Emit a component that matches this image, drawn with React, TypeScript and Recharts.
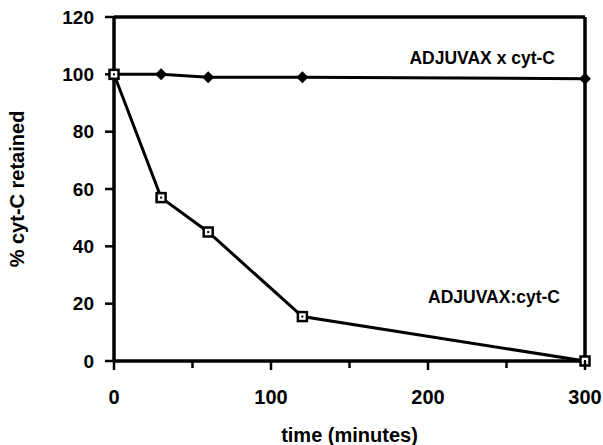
import React from "react";
import {
  LineChart,
  Line,
  XAxis,
  YAxis,
  ReferenceLine,
  Label,
} from "recharts";

// minutes sampled
const times = [0, 30, 60, 120, 300];
// ADJUVAX x cyt-C (filled diamonds)
const mixed = [100, 100, 99, 99, 98.5];
// ADJUVAX:cyt-C (open squares)
const complexed = [100, 57, 45, 15.5, 0];

const xTicks = [0, 50, 100, 150, 200, 250, 300];
const yTicks = [0, 20, 40, 60, 80, 100, 120];

const data = times.map((t, i) => ({ t, mixed: mixed[i], complexed: complexed[i] }));

const FONT = "'Liberation Sans', Arial, sans-serif";

const XTick = (props: any) => {
  const { x, y, payload } = props;
  const major = payload.value % 100 === 0;
  return (
    <g>
      <line x1={x} x2={x} y1={y - 8} y2={y - 8 + (major ? 9 : 7)} stroke="#000" strokeWidth={2.5} />
      {major && (
        <text x={x} y={y + 35} textAnchor="middle" fontFamily={FONT} fontWeight="bold" fontSize={20} fill="#000">
          {payload.value}
        </text>
      )}
    </g>
  );
};

const Diamond = (props: any) => {
  const { cx, cy } = props;
  const r = 6;
  return (
    <path
      d={`M${cx},${cy - r}L${cx + r},${cy}L${cx},${cy + r}L${cx - r},${cy}Z`}
      fill="#000"
    />
  );
};

const Square = (props: any) => {
  const { cx, cy } = props;
  return (
    <g>
      <rect x={cx - 4.5} y={cy - 4.5} width={9} height={9} fill="#fff" stroke="#000" strokeWidth={2.5} />
      <rect x={cx - 1} y={cy - 1} width={2} height={2} fill="#000" />
    </g>
  );
};

export default function App() {
  return (
    <div style={{ position: "absolute", left: 0, top: 0, background: "#fff" }}>
      <LineChart
        width={603}
        height={445}
        data={data}
        margin={{ top: 17, right: 18, left: 0, bottom: 0 }}
      >
        <XAxis
          dataKey="t"
          type="number"
          domain={[0, 300]}
          ticks={xTicks}
          interval={0}
          tick={<XTick />}
          tickLine={false}
          axisLine={{ stroke: "#000", strokeWidth: 3.5 }}
          height={84}
        >
          <Label
            value="time (minutes)"
            position="insideBottom"
            offset={3}
            style={{ fontFamily: FONT, fontWeight: "bold", fontSize: 20, fill: "#000" }}
          />
        </XAxis>
        <YAxis
          type="number"
          domain={[0, 120]}
          ticks={yTicks}
          interval={0}
          width={114}
          tickSize={9}
          tickLine={{ stroke: "#000", strokeWidth: 2.5 }}
          axisLine={{ stroke: "#000", strokeWidth: 3.5 }}
          tick={{ fontFamily: FONT, fontWeight: "bold", fontSize: 19, fill: "#000" }}
          tickMargin={11}
        >
          <Label
            value="% cyt-C retained"
            angle={-90}
            position="insideLeft"
            offset={17}
            style={{ fontFamily: FONT, fontWeight: "bold", fontSize: 20, fill: "#000", textAnchor: "middle" }}
          />
        </YAxis>
        <ReferenceLine y={120} stroke="#000" strokeWidth={3.5} />
        <ReferenceLine x={300} stroke="#000" strokeWidth={3.5} />
        <Line
          dataKey="mixed"
          stroke="#000"
          strokeWidth={3}
          dot={<Diamond />}
          activeDot={false}
          isAnimationActive={false}
        />
        <Line
          dataKey="complexed"
          stroke="#000"
          strokeWidth={3}
          dot={<Square />}
          activeDot={false}
          isAnimationActive={false}
        />
        <ReferenceLine y={105.7} stroke="none" ifOverflow="visible">
          <Label
            value="ADJUVAX x cyt-C"
            position="insideRight"
            offset={0}
            dx={-30}
            style={{ fontFamily: FONT, fontWeight: "bold", fontSize: 17.5, fill: "#000" }}
          />
        </ReferenceLine>
        <ReferenceLine y={22.3} stroke="none" ifOverflow="visible">
          <Label
            value="ADJUVAX:cyt-C"
            position="insideRight"
            offset={0}
            dx={-25}
            style={{ fontFamily: FONT, fontWeight: "bold", fontSize: 17.5, fill: "#000" }}
          />
        </ReferenceLine>
      </LineChart>
    </div>
  );
}
